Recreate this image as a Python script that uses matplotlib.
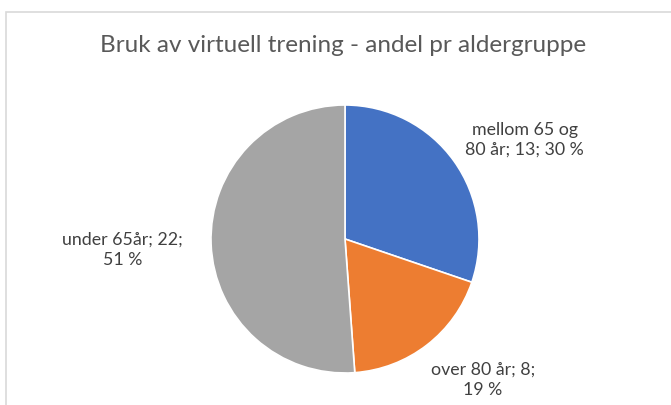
import matplotlib
matplotlib.use("Agg")
import matplotlib.pyplot as plt
from matplotlib.patches import Rectangle

plt.rcParams['font.family'] = ['Lato', 'DejaVu Sans']

# data
labels = ["mellom 65 og\n80 år", "over 80 år", "under 65år"]
values = [13, 8, 22]
colors = ["#4472C4", "#ED7D31", "#A5A5A5"]
title = "Bruk av virtuell trening - andel pr aldergruppe"

W, H = 671, 405
fig = plt.figure(figsize=(W / 100, H / 100), dpi=100)

# chart area frame (light gray)
fig.patches.append(Rectangle((6 / W, -0.1), 1.2, (H - 12) / H + 0.1,
                             transform=fig.transFigure, fill=False,
                             edgecolor="#D9D9D9", linewidth=1.2))

cx, cy, r = 345, 239, 134
ax = fig.add_axes([(cx - r) / W, (H - cy - r) / H, 2 * r / W, 2 * r / H])
ax.pie(values, colors=colors, startangle=90, counterclock=False, radius=1,
       wedgeprops=dict(edgecolor="white", linewidth=1.2))
ax.set_xlim(-1, 1)
ax.set_ylim(-1, 1)
ax.set_aspect("equal")
ax.axis("off")

total = sum(values)
texts = [f"{l}; {v}; {round(v / total * 100)} %" for l, v in zip(labels, values)]
texts[1] = "over 80 år; 8;\n19 %"
texts[2] = "under 65år; 22;\n51 %"
label_pos = [(1.34, 0.74), (1.03, -1.05), (-1.66, -0.08)]
for t, (x, y) in zip(texts, label_pos):
    ax.text(x, y, t, ha="center", va="center", fontsize=12.8, color="#404040",
            linespacing=1.3, clip_on=False)

fig.text(343 / W, 1 - 45 / H, title, ha="center", va="center",
         fontsize=17.5, color="#595959")

fig.savefig("out.png", dpi=100, facecolor="white")
